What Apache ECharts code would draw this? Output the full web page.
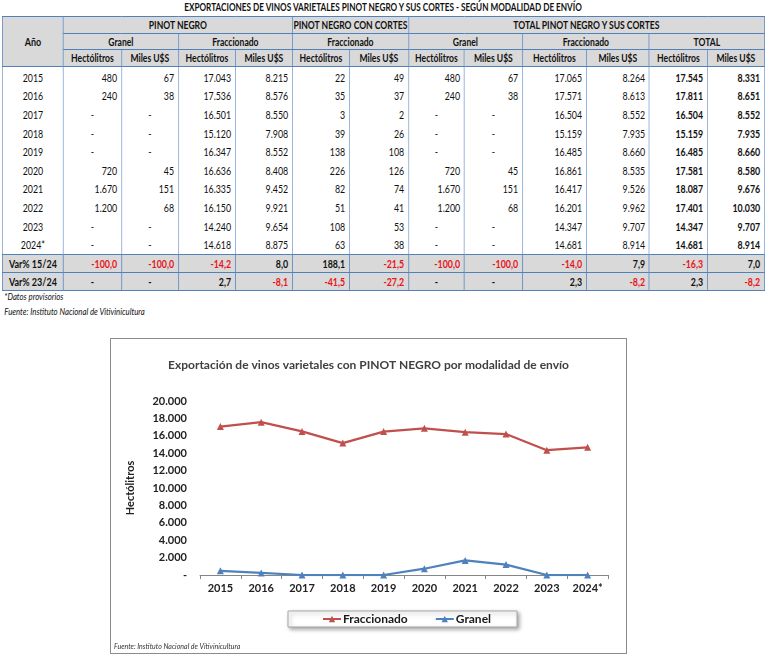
<!DOCTYPE html>
<html>
<head>
<meta charset="utf-8">
<script src="https://cdn.jsdelivr.net/npm/echarts@6/dist/echarts.min.js"></script>
<style>
  body { margin: 0; width: 767px; height: 663px; background: #fff; position: relative; overflow: hidden;
    font-family: Lato, sans-serif; color: #111; }
  /* la parte de la tabla se comprime en horizontal, como en la imagen original */
  #top { position: absolute; left: 2px; top: 0; width: 977px; height: 330px; transform: scaleX(0.78); transform-origin: 0 0; }
  #ttl { position: absolute; left: 0; top: 0; width: 100%; text-align: center; font-weight: bold; font-size: 10.5px; line-height: 15px; white-space: nowrap; }
  table { position: absolute; left: 0; top: 16px; border-collapse: collapse; table-layout: fixed; font-size: 11.3px; white-space: nowrap; }
  th { background: #d9d9d9; border: 1px solid #4f81bd; font-weight: bold; font-size: 11px; height: 15.5px; padding: 0; line-height: 15px; overflow: hidden; }
  th.a { font-size: 11.5px; }
  td { border-left: 1px solid #7fa2d0; border-right: 1px solid #7fa2d0; padding: 0 5px 0 0; text-align: right; height: 18.6px; line-height: 18px; }
  td.y { text-align: center; padding: 0; }
  td.b { font-weight: bold; }
  tr.first td { padding-top: 2px; }
  tr.last td { border-bottom: 1px solid #4f81bd; }
  tr.var td { background: #d9d9d9; font-weight: bold; border: 1px solid #4f81bd; height: 17px; line-height: 17px; padding-top: 0; }
  tr.var td.y { font-size: 11.5px; }
  td.neg { color: #e8141b; }
  td.dash { text-align: center; padding-right: 0; }
  .note { position: absolute; left: 3px; font-style: italic; font-size: 10px; white-space: nowrap; }
  #chart { position: absolute; left: 110px; top: 338px; width: 517px; height: 316px; border: 1px solid #8c8c8c; box-sizing: border-box; }
</style>
</head>
<body>
<div id="top">
  <div id="ttl">EXPORTACIONES DE VINOS VARIETALES PINOT NEGRO Y SUS CORTES - SEGÚN MODALIDAD DE ENVÍO</div>
  <table id="tbl"></table>
  <div class="note" style="top:290px">*Datos provisorios</div>
  <div class="note" style="top:305px">Fuente: Instituto Nacional de Vitivinicultura</div>
</div>
<div id="chart"></div>
<script>
// datos de la tabla (null = "-")
var years = ['2015', '2016', '2017', '2018', '2019', '2020', '2021', '2022', '2023', '2024*'];
var pnGranelHl = [480, 240, null, null, null, 720, 1670, 1200, null, null];
var pnGranelUsd = [67, 38, null, null, null, 45, 151, 68, null, null];
var pnFraccHl = [17043, 17536, 16501, 15120, 16347, 16636, 16335, 16150, 14240, 14618];
var pnFraccUsd = [8215, 8576, 8550, 7908, 8552, 8408, 9452, 9921, 9654, 8875];
var cortesHl = [22, 35, 3, 39, 138, 226, 82, 51, 108, 63];
var cortesUsd = [49, 37, 2, 26, 108, 126, 74, 41, 53, 38];
var totGranelHl = [480, 240, null, null, null, 720, 1670, 1200, null, null];
var totGranelUsd = [67, 38, null, null, null, 45, 151, 68, null, null];
var totFraccHl = [17065, 17571, 16504, 15159, 16485, 16861, 16417, 16201, 14347, 14681];
var totFraccUsd = [8264, 8613, 8552, 7935, 8660, 8535, 9526, 9962, 9707, 8914];
var totalHl = [17545, 17811, 16504, 15159, 16485, 17581, 18087, 17401, 14347, 14681];
var totalUsd = [8331, 8651, 8552, 7935, 8660, 8580, 9676, 10030, 9707, 8914];
var var1524 = [-100.0, -100.0, -14.2, 8.0, 188.1, -21.5, -100.0, -100.0, -14.0, 7.9, -16.3, 7.0];
var var2324 = [null, null, 2.7, -8.1, -41.5, -27.2, null, null, 2.3, -8.2, 2.3, -8.2];

var colWidths = [61, 58, 57, 57, 57, 57, 59, 56, 58, 64, 63, 58, 57];
var squeeze = 0.78;
var font = 'Lato, sans-serif';

function fmtInt(v) {
  return String(v).replace(/\B(?=(\d{3})+(?!\d))/g, '.')
}
function fmtDec(v) {
  return v.toFixed(1).replace('.', ',')
}

// tabla
var cols = [pnGranelHl, pnGranelUsd, pnFraccHl, pnFraccUsd, cortesHl, cortesUsd,
  totGranelHl, totGranelUsd, totFraccHl, totFraccUsd, totalHl, totalUsd];
var html = '<colgroup>';
var tw = 0;
colWidths.forEach(function (w) {
  html += '<col style="width:' + (w / squeeze).toFixed(2) + 'px">';
  tw += w / squeeze;
});
html += '</colgroup>';
html += '<tr><th rowspan="3" class="a">Año</th><th colspan="4">PINOT NEGRO</th><th colspan="2">PINOT NEGRO CON CORTES</th><th colspan="6">TOTAL PINOT NEGRO Y SUS CORTES</th></tr>';
html += '<tr><th colspan="2">Granel</th><th colspan="2">Fraccionado</th><th colspan="2">Fraccionado</th><th colspan="2">Granel</th><th colspan="2">Fraccionado</th><th colspan="2">TOTAL</th></tr>';
html += '<tr>';
for (let i = 0; i < 6; i++) html += '<th>Hectólitros</th><th>Miles U$S</th>';
html += '</tr>';
for (let r = 0; r < years.length; r++) {
  let cl = r == 0 ? ' class="first"' : (r == years.length - 1 ? ' class="last"' : '');
  html += '<tr' + cl + '><td class="y">' + years[r] + '</td>';
  for (let c = 0; c < cols.length; c++) {
    let v = cols[c][r];
    let cls = c >= 10 ? 'b' : '';
    if (v === null) html += '<td class="dash">-</td>';
    else html += '<td class="' + cls + '">' + fmtInt(v) + '</td>';
  }
  html += '</tr>';
}
[['Var% 15/24', var1524], ['Var% 23/24', var2324]].forEach(function (row) {
  html += '<tr class="var"><td class="y">' + row[0] + '</td>';
  row[1].forEach(function (v) {
    if (v === null) html += '<td class="dash">-</td>';
    else html += '<td class="' + (v < 0 ? 'neg' : '') + '">' + fmtDec(v) + '</td>';
  });
  html += '</tr>';
});
var tbl = document.getElementById('tbl');
tbl.style.width = tw.toFixed(2) + 'px';
tbl.innerHTML = html;

// grafico
var fraccSerie = totFraccHl;
var granelSerie = totGranelHl.map(function (v) { return v === null ? 0 : v });

var chart = echarts.init(document.getElementById('chart'));
var option = {
  title: {
    text: 'Exportación de vinos varietales con PINOT NEGRO por modalidad de envío',
    left: 'center',
    top: 15,
    textStyle: { fontSize: 12, fontWeight: 'bold', color: '#404040', fontFamily: font }
  },
  grid: { left: 89, right: 18, top: 62, bottom: 78 },
  legend: {
    data: ['Fraccionado', 'Granel'],
    left: 177,
    top: 272,
    itemWidth: 18,
    itemHeight: 8,
    itemGap: 27,
    padding: [2, 26, 2, 34],
    backgroundColor: '#fff',
    borderColor: '#a6a6a6',
    borderWidth: 1,
    shadowBlur: 4,
    shadowColor: 'rgba(0,0,0,0.35)',
    shadowOffsetX: 2,
    shadowOffsetY: 2,
    textStyle: { fontSize: 12, fontWeight: 'bold', color: '#1a1a1a', fontFamily: font, padding: [0, 0, 0, -3] }
  },
  xAxis: {
    type: 'category',
    data: years,
    axisLine: { lineStyle: { color: '#868686' } },
    axisTick: { show: true, length: 4, lineStyle: { color: '#868686' } },
    axisLabel: { interval: 0, fontSize: 11, fontWeight: 'bold', color: '#222', fontFamily: font, margin: 8 }
  },
  yAxis: {
    type: 'value',
    min: 0,
    max: 20000,
    interval: 2000,
    name: 'Hectólitros',
    nameLocation: 'middle',
    nameGap: 64,
    nameRotate: 90,
    nameTextStyle: { fontSize: 11, fontWeight: 'bold', color: '#222', fontFamily: font },
    splitLine: { show: false },
    axisLine: { show: false },
    axisTick: { show: false },
    axisLabel: {
      fontSize: 11, fontWeight: 'bold', color: '#222', fontFamily: font, margin: 13,
      formatter: function (v) { return v === 0 ? '-' : fmtInt(v) }
    }
  },
  graphic: [{
    type: 'text',
    left: 3,
    top: 304,
    style: { text: 'Fuente: Instituto Nacional de Vitivinicultura', fontSize: 7, fontStyle: 'italic', fill: '#333', fontFamily: font }
  }],
  series: [
    {
      name: 'Fraccionado', type: 'line', data: fraccSerie,
      symbol: 'triangle', symbolSize: 7,
      itemStyle: { color: '#c0504d' }, lineStyle: { width: 2.25, color: '#c0504d' }
    },
    {
      name: 'Granel', type: 'line', data: granelSerie,
      symbol: 'triangle', symbolSize: 7,
      itemStyle: { color: '#4f81bd' }, lineStyle: { width: 2.25, color: '#4f81bd' }
    }
  ]
};
chart.setOption(option);
</script>
</body>
</html>
